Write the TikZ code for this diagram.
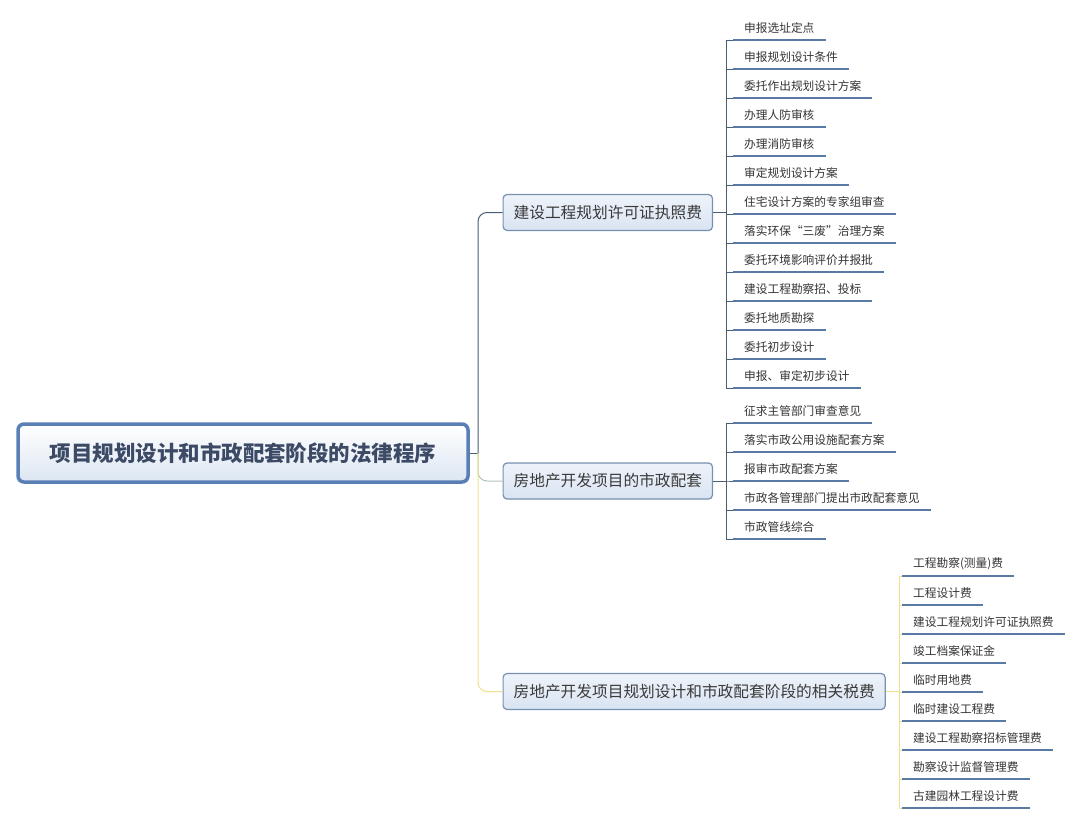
\documentclass[tikz,border=0pt]{standalone}
\usepackage{fontspec}
\setmainfont{Noto Sans CJK SC}
\usetikzlibrary{positioning}
\definecolor{rootline}{HTML}{5A7FB5}
\definecolor{rootfill}{HTML}{DCE6F2}
\definecolor{roottext}{HTML}{3C4A66}
\definecolor{branchline}{HTML}{7790B2}
\definecolor{branchtop}{HTML}{EEF3FA}
\definecolor{branchbottom}{HTML}{D9E4F2}
\definecolor{branchtext}{HTML}{3A3A3A}
\definecolor{leaftext}{HTML}{333333}
\definecolor{leafline}{HTML}{5A7AA6}
\definecolor{darkline}{HTML}{4A5E74}
\definecolor{sageline}{HTML}{AFC4B6}
\definecolor{yellowline}{HTML}{EEE08E}

\begin{document}
\begin{tikzpicture}
      [x=1pt, y=-1pt,
      root style/.style={draw=rootline, line width=3.5pt, rounded corners=6pt, top color=white, bottom color=rootfill, minimum width=450pt, minimum height=58pt, align=center, font=\fontsize{21.5}{24}\selectfont\bfseries, text=roottext},
      branch style/.style={draw=branchline, line width=1.2pt, rounded corners=4pt, top color=branchtop, bottom color=branchbottom, inner xsep=10.5pt, inner ysep=0pt, minimum height=36pt, anchor=west, font=\fontsize{15.7}{18}\selectfont, text=branchtext},
      leaf style/.style={anchor=south west, inner xsep=11pt, inner ysep=6pt, font=\fontsize{11.7}{13}\selectfont, text=leaftext},
      underline style/.style={draw=leafline, line width=2.6pt},
      trunk style/.style={draw, line width=1pt, rounded corners=9pt},
      spine style/.style={draw, line width=0.9pt},
      ]

      \useasboundingbox (0,0) rectangle (1080,823);

      \node[root style] (root) at (243,453) {项目规划设计和市政配套阶段的法律程序};
      \node[branch style] (build) at (502.5,212.5) {建设工程规划许可证执照费};
      \node[branch style] (muni) at (502.5,481) {房地产开发项目的市政配套};
      \node[branch style] (fee) at (502.5,691.5) {房地产开发项目规划设计和市政配套阶段的相关税费};

      \coordinate (hub) at (478,453);
      \draw[trunk style, darkline] (root.east) -- (hub);
      \draw[trunk style, darkline] (hub) |- (build.west);
      \draw[trunk style, sageline] (hub) |- (muni.west);
      \draw[trunk style, yellowline] (hub) |- (fee.west);

      \foreach \t [count=\i] in {申报选址定点, 申报规划设计条件, 委托作出规划设计方案, 办理人防审核, 办理消防审核, 审定规划设计方案, 住宅设计方案的专家组审查, 落实环保“三废”治理方案, 委托环境影响评价并报批, 建设工程勘察招、投标, 委托地质勘探, 委托初步设计, 申报、审定初步设计} {
        \node[leaf style] (build-\i) at (733,11+29*\i) {\t};
        \draw[spine style, darkline] (build.east) -- ++(13,0) |- (build-\i.south west);
        \draw[underline style] (build-\i.south west) -- (build-\i.south east);
      }

      \foreach \t [count=\i] in {征求主管部门审查意见, 落实市政公用设施配套方案, 报审市政配套方案, 市政各管理部门提出市政配套意见, 市政管线综合} {
        \node[leaf style] (muni-\i) at (733,394+29*\i) {\t};
        \draw[spine style, darkline] (muni.east) -- ++(13,0) |- (muni-\i.south west);
        \draw[underline style] (muni-\i.south west) -- (muni-\i.south east);
      }

      \foreach \t [count=\i] in {工程勘察(测量)费, 工程设计费, 建设工程规划许可证执照费, 竣工档案保证金, 临时用地费, 临时建设工程费, 建设工程勘察招标管理费, 勘察设计监督管理费, 古建园林工程设计费} {
        \node[leaf style] (fee-\i) at (902,547+29*\i) {\t};
        \draw[spine style, yellowline] (fee.east) -- ++(14,0) |- (fee-\i.south west);
        \draw[underline style] (fee-\i.south west) -- (fee-\i.south east);
      }
    \end{tikzpicture}
\end{document}
